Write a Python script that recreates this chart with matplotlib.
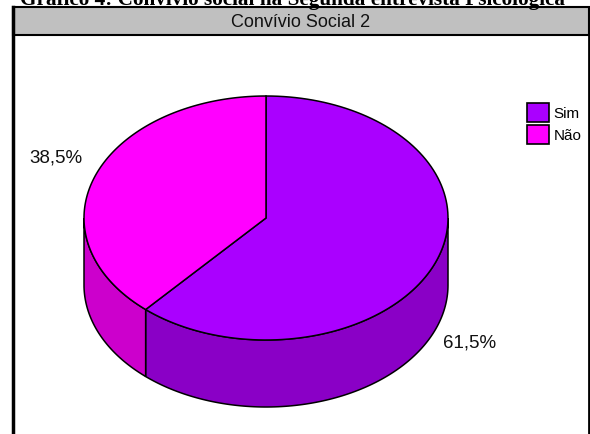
import numpy as np
import matplotlib.pyplot as plt
from matplotlib.patches import Polygon, Rectangle

fig_title = 'Gráfico 4: Convívio social na Segunda entrevista Psicológica'
chart_title = 'Convívio Social 2'
labels = ['Sim', 'Não']
values = [61.5, 38.5]
top_colors = ['#AA00FF', '#FF00FF']
side_colors = ['#8A00C6', '#CC00CC']

W, H = 590, 435
fig = plt.figure(figsize=(W / 100, H / 100), dpi=100)
ax = fig.add_axes([0, 0, 1, 1])
ax.set_xlim(0, W)
ax.set_ylim(H, 0)
ax.axis('off')

# pie geometry in pixels
cx, cy, rx, ry, depth = 266, 219, 182, 122, 67


def arc(a0, a1, dy=0, n=120):
    t = np.radians(np.linspace(a0, a1, n))
    return np.column_stack([cx + rx * np.cos(t), cy - ry * np.sin(t) + dy])


fracs = np.array(values) / sum(values)
starts = 90 - 360 * np.concatenate([[0], np.cumsum(fracs)[:-1]])
ends = starts - 360 * fracs

# side walls (only the front half is visible)
for a0, a1, c in zip(starts, ends, side_colors):
    for k in (0, -1):
        lo, hi = max(a1, -180 + 360 * k), min(a0, 360 * k)
        if hi > lo:
            top = arc(hi, lo)
            bot = arc(lo, hi, depth)
            ax.add_patch(Polygon(np.vstack([top, bot]), closed=True,
                                 fc=c, ec='black', lw=1.1, zorder=2))

# top faces
for a0, a1, c in zip(starts, ends, top_colors):
    pts = np.vstack([[cx, cy], arc(a0, a1)])
    ax.add_patch(Polygon(pts, closed=True, fc=c, ec='black', lw=1.1, zorder=3))

# percent labels
lab_pos = [(470, 343), (56, 158)]
for v, (x, y) in zip(values, lab_pos):
    ax.text(x, y, f'{v:.1f}%'.replace('.', ','), ha='center', va='center',
            fontsize=13.5, family='Liberation Sans', color='#111111')

# frame and header
ax.plot([13, 13], [8, H], color='black', lw=2.5, zorder=5)
ax.plot([588.5, 588.5], [8, H], color='black', lw=2.0, zorder=5)
ax.add_patch(Rectangle((13, 8), 575.5, 28, fc='#C0C0C0', ec='black', lw=1.5, zorder=4))
ax.text(301, 22.5, chart_title, ha='center', va='center', fontsize=13,
        family='Liberation Sans', color='#111111', zorder=6)

# legend
handles = [Rectangle((0, 0), 1, 1, fc=c, ec='black', lw=1.2) for c in top_colors]
ax.legend(handles, labels, loc='upper left', bbox_to_anchor=(519 / W, 1 - 96 / H),
          frameon=False, borderpad=0, handlelength=1.45, handleheight=1.55,
          labelspacing=0.2, handletextpad=0.3, prop={'family': 'Liberation Sans', 'size': 11})

# figure caption (cut off at top like the original)
fig.text(292 / W, 1 - 5.5 / H, fig_title, ha='center', va='baseline',
         fontsize=15.3, fontweight='bold', family='Liberation Serif')

fig.savefig('out.png', dpi=100)
